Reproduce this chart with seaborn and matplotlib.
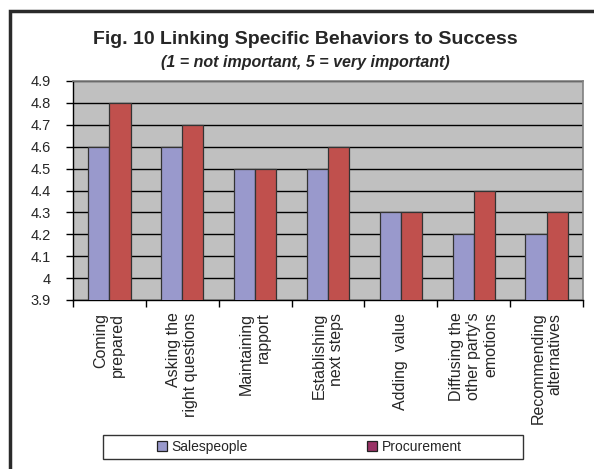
import matplotlib
matplotlib.use("Agg")
import matplotlib.pyplot as plt
from matplotlib.patches import Patch, Rectangle
from matplotlib.ticker import FixedLocator
import seaborn as sns
import pandas as pd

behaviors = ["Coming\nprepared", "Asking the\nright questions", "Maintaining\nrapport",
             "Establishing\nnext steps", "Adding  value", "Diffusing the\nother party's\nemotions",
             "Recommending\nalternatives"]
salespeople = [4.6, 4.6, 4.5, 4.5, 4.3, 4.2, 4.2]
procurement = [4.8, 4.7, 4.5, 4.6, 4.3, 4.4, 4.3]
series_names = ["Salespeople", "Procurement"]
y_ticks = [3.9, 4.0, 4.1, 4.2, 4.3, 4.4, 4.5, 4.6, 4.7, 4.8, 4.9]
y_tick_labels = ["3.9", "4", "4.1", "4.2", "4.3", "4.4", "4.5", "4.6", "4.7", "4.8", "4.9"]

df = pd.DataFrame({
    "behavior": behaviors * 2,
    "score": salespeople + procurement,
    "group": [series_names[0]] * len(behaviors) + [series_names[1]] * len(behaviors),
})

sns.set_style("white")
plt.rcParams["font.family"] = ["Liberation Sans", "DejaVu Sans"]

fig = plt.figure(figsize=(5.94, 4.69), dpi=100)
ax = fig.add_axes([73 / 594, 1 - 300 / 469, 510 / 594, 219 / 469])
ax.set_facecolor("#C0C0C0")

sns.barplot(data=df, x="behavior", y="score", hue="group", order=behaviors,
            hue_order=series_names, palette=["#9999CC", "#C0504D"], saturation=1,
            width=0.58, edgecolor="#333333", linewidth=0.9, ax=ax, legend=False,
            errorbar=None, zorder=3)

ax.set_ylim(3.9, 4.9)
ax.set_xlim(-0.5, len(behaviors) - 0.5)
ax.set_yticks(y_ticks)
ax.set_yticklabels(y_tick_labels, fontsize=10.5)
ax.yaxis.grid(True, color="black", linewidth=1.0, zorder=0)
ax.set_axisbelow(True)
ax.tick_params(axis="y", direction="out", length=5, width=1, color="black", pad=11, left=True)

ax.set_xticks(range(len(behaviors)))
ax.set_xticklabels(behaviors, rotation=90, fontsize=11.5, ha="center", va="top",
                   multialignment="right", linespacing=1.15)
ax.tick_params(axis="x", which="major", length=0, pad=9)
ax.xaxis.set_minor_locator(FixedLocator([i - 0.5 for i in range(len(behaviors) + 1)]))
ax.tick_params(axis="x", which="minor", direction="out", length=5, width=1, color="black", bottom=True)
ax.set_xlabel("")
ax.set_ylabel("")

for side in ["left", "bottom"]:
    ax.spines[side].set_color("black")
    ax.spines[side].set_linewidth(1.0)
for side in ["top", "right"]:
    ax.spines[side].set_color("#808080")
    ax.spines[side].set_linewidth(1.2)

fig.text(305 / 594, 1 - 40 / 469, "Fig. 10 Linking Specific Behaviors to Success",
         ha="center", va="center", fontsize=14, fontweight="bold")
fig.text(305 / 594, 1 - 62 / 469, "(1 = not important, 5 = very important)",
         ha="center", va="center", fontsize=11.5, fontweight="bold", style="italic")

# legend frame
fig.patches.append(Rectangle((103 / 594, 1 - 459 / 469), 420 / 594, 24 / 469,
                             transform=fig.transFigure, facecolor="white",
                             edgecolor="#333333", linewidth=1.0, zorder=1))
handles = [Patch(facecolor="#9999CC", edgecolor="#222222", linewidth=0.9),
           Patch(facecolor="#993366", edgecolor="#222222", linewidth=0.9)]
leg = fig.legend(handles, series_names, loc="center left",
                 bbox_to_anchor=(157 / 594, 1 - 447 / 469),
                 ncol=2, fontsize=10, frameon=False,
                 handlelength=0.7, handleheight=0.7, handletextpad=0.35, columnspacing=8.6,
                 borderpad=0, borderaxespad=0)
leg.set_zorder(3)

fig.patches.append(Rectangle((10 / 594, -0.1), 1.2, 1 - 11 / 469 + 0.1, transform=fig.transFigure,
                             fill=False, edgecolor="#2a2a2a", linewidth=2.5))

fig.savefig("out.png", dpi=100)
